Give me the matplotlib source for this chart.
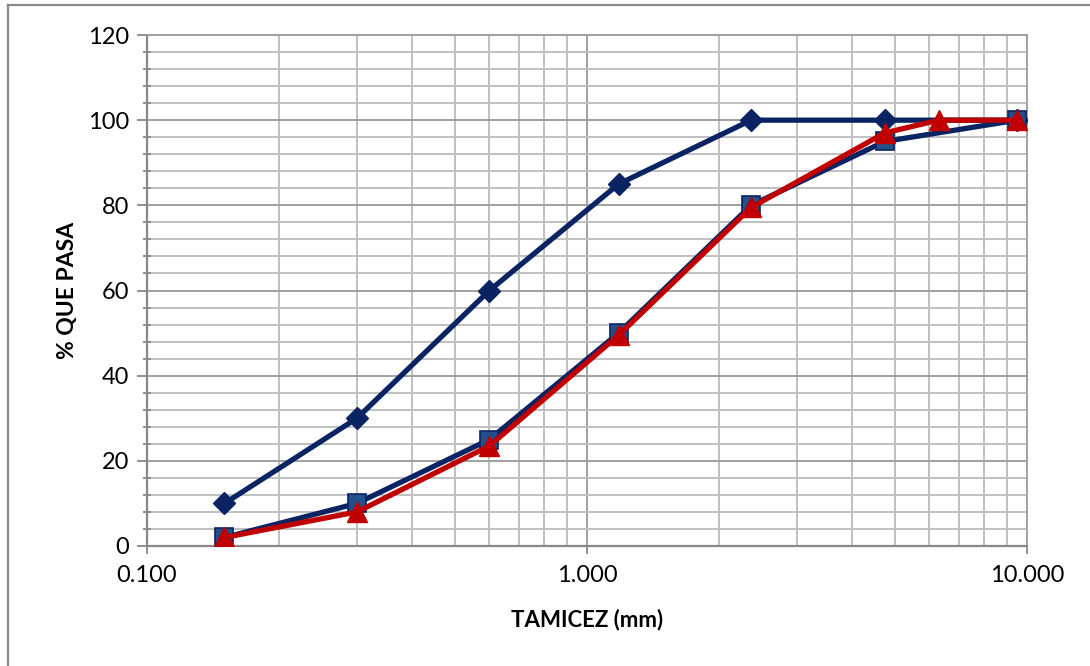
import matplotlib
matplotlib.use("Agg")
import matplotlib.pyplot as plt
from matplotlib.ticker import FixedLocator, MultipleLocator, LogLocator, NullFormatter
from matplotlib.lines import Line2D

plt.rcParams['font.family'] = ['Lato', 'DejaVu Sans']

# Data
sieve_limits = [0.15, 0.30, 0.60, 1.18, 2.36, 4.75, 9.50]
upper_limit = [10, 30, 60, 85, 100, 100, 100]
lower_limit = [2, 10, 25, 50, 80, 95, 100]
sieve_sample = [0.15, 0.30, 0.60, 1.18, 2.36, 4.75, 6.30, 9.50]
sample_pass = [2, 8, 23.5, 49.5, 79.5, 97, 100, 100]

x_ticks = [0.1, 1.0, 10.0]
x_tick_labels = ["0.100", "1.000", "10.000"]
x_label = "TAMICEZ (mm)"
y_label = "% QUE PASA"

fig = plt.figure(figsize=(10.9, 6.66), dpi=100)
ax = fig.add_axes([147/1090, 1-546/666, (1027-147)/1090, (546-35)/666])

navy = '#0a2463'
ax.plot(sieve_limits, upper_limit, color=navy, lw=3.8, marker='D', ms=11,
        mfc=navy, mec=navy, zorder=3)
ax.plot(sieve_limits, lower_limit, color=navy, lw=3.8, marker='s', ms=13,
        mfc='#234f8a', mec=navy, mew=1.2, zorder=4)
ax.plot(sieve_sample, sample_pass, color='#c00000', lw=3.8, marker='^', ms=14,
        mfc='#c00000', mec='#c00000', zorder=5)

ax.set_xscale('log')
ax.set_xlim(0.1, 10)
ax.set_ylim(0, 120)
ax.xaxis.set_major_locator(FixedLocator(x_ticks))
ax.set_xticklabels(x_tick_labels)
ax.xaxis.set_minor_locator(LogLocator(base=10, subs=range(2, 10)))
ax.xaxis.set_minor_formatter(NullFormatter())
ax.yaxis.set_major_locator(MultipleLocator(20))
ax.yaxis.set_minor_locator(MultipleLocator(4))

ax.grid(which='major', color='#a0a0a0', lw=1.4)
ax.grid(which='minor', color='#c0c0c0', lw=1.4)
ax.set_axisbelow(True)

for s in ['top', 'right']:
    ax.spines[s].set_color('#a0a0a0')
    ax.spines[s].set_linewidth(1.4)
for s in ['left', 'bottom']:
    ax.spines[s].set_color('#888888')
    ax.spines[s].set_linewidth(1.6)

ax.tick_params(axis='y', which='major', direction='out', length=7, width=1.3, color='#888888', labelsize=17, pad=6)
ax.tick_params(axis='y', which='minor', direction='inout', length=6, width=1.3, color='#888888')
ax.tick_params(axis='x', which='major', direction='out', length=6, width=1.3, color='#888888', labelsize=17, pad=8)
ax.tick_params(axis='x', which='minor', length=0)

ax.set_xlabel(x_label, fontsize=16, fontweight='bold', labelpad=16)
ax.set_ylabel(y_label, fontsize=16.5, fontweight='bold', labelpad=7)

# outer chart border
fig.add_artist(Line2D([8/1090, 8/1090], [0, 1-5/666], transform=fig.transFigure, color='#8a8a8a', lw=1.6))
fig.add_artist(Line2D([8/1090, 1], [1-5/666, 1-5/666], transform=fig.transFigure, color='#8a8a8a', lw=1.6))

fig.savefig('out.png', dpi=100)
